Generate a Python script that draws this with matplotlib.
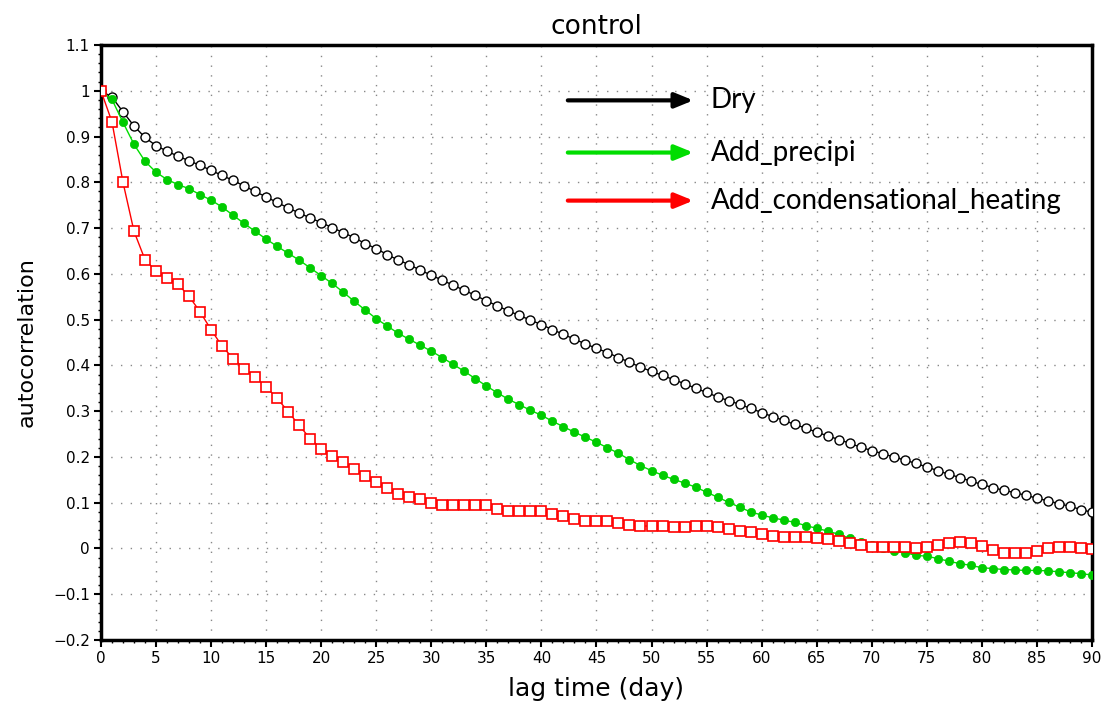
import numpy as np
import matplotlib
matplotlib.use("Agg")
import matplotlib.pyplot as plt
from matplotlib.ticker import MultipleLocator, FixedLocator

lag_days = np.arange(0, 91)

dry = [
    1.000, 0.986, 0.954, 0.923, 0.898, 0.880, 0.868, 0.857, 0.847, 0.837,
    0.826, 0.815, 0.804, 0.792, 0.780, 0.768, 0.756, 0.744, 0.733, 0.722,
    0.712, 0.701, 0.690, 0.679, 0.666, 0.655, 0.642, 0.630, 0.620, 0.608,
    0.597, 0.586, 0.575, 0.564, 0.553, 0.541, 0.530, 0.519, 0.509, 0.499,
    0.489, 0.478, 0.468, 0.457, 0.447, 0.437, 0.428, 0.417, 0.407, 0.396,
    0.387, 0.378, 0.369, 0.360, 0.350, 0.341, 0.331, 0.323, 0.315, 0.306,
    0.297, 0.288, 0.280, 0.271, 0.263, 0.254, 0.246, 0.238, 0.230, 0.221,
    0.214, 0.207, 0.200, 0.193, 0.186, 0.178, 0.170, 0.162, 0.155, 0.147,
    0.140, 0.133, 0.127, 0.122, 0.116, 0.110, 0.104, 0.098, 0.092, 0.085,
    0.079,
]

add_precipi = [
    1.000, 0.981, 0.931, 0.883, 0.846, 0.822, 0.806, 0.795, 0.786, 0.773,
    0.761, 0.746, 0.728, 0.710, 0.693, 0.676, 0.660, 0.645, 0.630, 0.613,
    0.596, 0.579, 0.560, 0.540, 0.521, 0.502, 0.486, 0.470, 0.457, 0.444,
    0.431, 0.417, 0.402, 0.387, 0.371, 0.355, 0.340, 0.326, 0.314, 0.302,
    0.291, 0.278, 0.266, 0.254, 0.243, 0.232, 0.220, 0.208, 0.194, 0.181,
    0.170, 0.160, 0.151, 0.143, 0.134, 0.123, 0.112, 0.101, 0.090, 0.080,
    0.073, 0.067, 0.062, 0.057, 0.050, 0.044, 0.038, 0.031, 0.022, 0.015,
    0.007, 0.002, -0.006, -0.009, -0.015, -0.017, -0.022, -0.028, -0.033, -0.037,
    -0.042, -0.044, -0.046, -0.047, -0.048, -0.048, -0.049, -0.051, -0.053, -0.055,
    -0.058,
]

add_condensational_heating = [
    1.000, 0.932, 0.800, 0.693, 0.631, 0.606, 0.591, 0.577, 0.551, 0.517,
    0.478, 0.442, 0.415, 0.393, 0.374, 0.353, 0.328, 0.299, 0.269, 0.240,
    0.218, 0.202, 0.189, 0.173, 0.158, 0.145, 0.132, 0.120, 0.113, 0.107,
    0.100, 0.096, 0.096, 0.096, 0.096, 0.094, 0.087, 0.082, 0.082, 0.082,
    0.081, 0.076, 0.071, 0.064, 0.060, 0.060, 0.059, 0.056, 0.051, 0.049,
    0.049, 0.049, 0.047, 0.047, 0.049, 0.049, 0.047, 0.043, 0.039, 0.036,
    0.031, 0.027, 0.026, 0.025, 0.025, 0.023, 0.020, 0.016, 0.012, 0.007,
    0.003, 0.003, 0.003, 0.003, 0.002, 0.003, 0.007, 0.012, 0.014, 0.012,
    0.005, -0.004, -0.009, -0.011, -0.009, -0.005, 0.000, 0.003, 0.003, 0.002,
    -0.001,
]

x_ticks = list(range(0, 91, 5))
y_ticks = [-0.2, -0.1, 0.0, 0.1, 0.2, 0.3, 0.4, 0.5, 0.6, 0.7, 0.8, 0.9, 1.0, 1.1]
y_tick_labels = ["\u22120.2", "\u22120.1", "0", "0.1", "0.2", "0.3", "0.4",
                 "0.5", "0.6", "0.7", "0.8", "0.9", "1", "1.1"]

legend_labels = ["Dry", "Add_precipi", "Add_condensational_heating"]
legend_colors = ["black", "#00dd00", "red"]
legend_y = [0.979, 0.865, 0.760]

fig = plt.figure(figsize=(11.07, 7.05), dpi=100)
ax = fig.add_axes([0.0912, 0.0922, 0.8952, 0.8440])

ax.plot(lag_days, dry, color="black", lw=1.0, marker="o", ms=6.5,
        mfc="white", mec="black", mew=1.0, zorder=3)
ax.plot(lag_days, add_precipi, color="#00dd00", lw=1.0, marker="o", ms=6.0,
        mfc="#00cc00", mec="#00cc00", mew=0.5, zorder=4)
ax.plot(lag_days, add_condensational_heating, color="red", lw=1.0, marker="s",
        ms=6.8, mfc="white", mec="red", mew=1.2, zorder=5)

ax.set_xlim(0, 90)
ax.set_ylim(-0.2, 1.1)
ax.xaxis.set_major_locator(FixedLocator(x_ticks))
ax.xaxis.set_minor_locator(MultipleLocator(1))
ax.yaxis.set_major_locator(FixedLocator(y_ticks))
ax.yaxis.set_minor_locator(MultipleLocator(0.02))
ax.set_yticklabels(y_tick_labels)

ax.grid(True, which="major", color="#888888", linestyle=(0, (1, 6)), linewidth=1.0)
for s in ax.spines.values():
    s.set_linewidth(2.5)
ax.tick_params(which="major", direction="out", length=5, width=1.5,
               labelsize=11, pad=3)
ax.tick_params(which="minor", direction="out", length=2.5, width=1.0)

ax.set_xlabel("lag time (day)", fontsize=18, labelpad=8)
ax.set_ylabel("autocorrelation", fontsize=16, labelpad=12)
ax.set_title("control", fontsize=19, pad=8)

# arrow legend
for lab, col, yv in zip(legend_labels, legend_colors, legend_y):
    ax.annotate("", xy=(53.8, yv), xytext=(42.4, yv),
                arrowprops=dict(arrowstyle="-|>,head_length=1.1,head_width=0.45",
                                color=col, lw=3.0, shrinkA=0, shrinkB=0),
                zorder=6)
    ax.text(55.4, yv, lab, fontsize=20, family="Lato", va="center", ha="left",
            zorder=6)

fig.savefig("out.png", dpi=100)
